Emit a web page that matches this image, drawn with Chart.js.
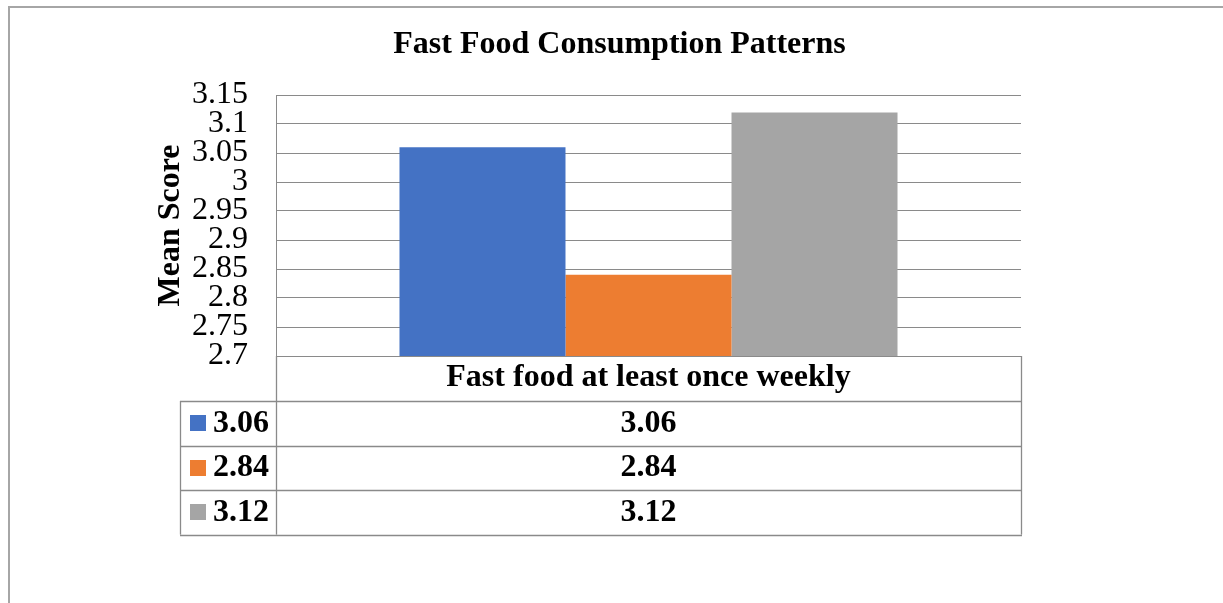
<!DOCTYPE html>
<html>
<head>
<meta charset="utf-8">
<title>Fast Food Consumption Patterns</title>
<script src="https://cdn.jsdelivr.net/npm/chart.js@4.4.1/dist/chart.umd.min.js"></script>
<style>
  html, body { margin: 0; padding: 0; background: #ffffff; }
  canvas { display: block; }
</style>
</head>
<body>
<canvas id="chart" width="1223" height="603"></canvas>
<script>
// ---- data ----
const chartTitle = 'Fast Food Consumption Patterns';
const axisTitle = 'Mean Score';
const categories = ['Fast food at least once weekly'];
const seriesNames = ['3.06', '2.84', '3.12'];
const seriesValues = [3.06, 2.84, 3.12];
const seriesColors = ['#4472C4', '#ED7D31', '#A5A5A5'];
const yTickLabels = ['2.7', '2.75', '2.8', '2.85', '2.9', '2.95', '3', '3.05', '3.1', '3.15'];

// ---- styling ----
const FONT = "'Liberation Serif', 'Times New Roman', serif";
const LINE = '#8a8a8a';
const FRAME = '#a6a6a6';

Chart.defaults.font.family = FONT;
Chart.defaults.color = '#000000';

// Outer chart frame (top and left edges)
const framePlugin = {
  id: 'frame',
  beforeDraw(chart) {
    const ctx = chart.ctx;
    ctx.save();
    ctx.fillStyle = '#ffffff';
    ctx.fillRect(0, 0, chart.width, chart.height);
    ctx.strokeStyle = FRAME;
    ctx.lineWidth = 2;
    ctx.beginPath();
    ctx.moveTo(9, chart.height);
    ctx.lineTo(9, 7);
    ctx.lineTo(chart.width, 7);
    ctx.stroke();
    ctx.restore();
  }
};

// Data table under the plot: header row holds the category label (drawn by the x axis),
// then one row per series with its legend key and value.
const dataTablePlugin = {
  id: 'dataTable',
  afterDraw(chart) {
    const ctx = chart.ctx;
    const area = chart.chartArea;
    const xScale = chart.scales.x;
    const headerH = 45;
    const rowH = 44.5;
    const keyColLeft = 180;
    const top = area.bottom;
    const firstRow = top + headerH;
    const bottom = firstRow + rowH * seriesValues.length;

    ctx.save();
    ctx.strokeStyle = LINE;
    ctx.lineWidth = 1.3;
    const px = v => Math.round(v) + 0.5;

    ctx.beginPath();
    // vertical lines
    ctx.moveTo(px(area.left), top); ctx.lineTo(px(area.left), bottom);
    ctx.moveTo(px(area.right), top); ctx.lineTo(px(area.right), bottom);
    ctx.moveTo(px(keyColLeft), firstRow); ctx.lineTo(px(keyColLeft), bottom);
    // horizontal lines
    for (let i = 0; i <= seriesValues.length; i++) {
      const y = px(firstRow + rowH * i);
      ctx.moveTo(keyColLeft, y); ctx.lineTo(px(area.right) + 0.5, y);
    }
    ctx.stroke();

    ctx.font = 'bold 32px ' + FONT;
    ctx.textBaseline = 'middle';
    const cx = xScale.getPixelForValue(0);
    chart.data.datasets.forEach((ds, i) => {
      const cy = firstRow + rowH * i + rowH / 2;
      // legend key
      ctx.fillStyle = ds.backgroundColor;
      ctx.fillRect(190, Math.round(cy - 8), 16, 16);
      // series name
      ctx.fillStyle = '#000000';
      ctx.textAlign = 'left';
      ctx.fillText(ds.label, 213, cy);
      // value
      ctx.textAlign = 'center';
      ctx.fillText(ds.data[0].toFixed(2), cx, cy);
    });
    ctx.restore();
  }
};

new Chart(document.getElementById('chart'), {
  type: 'bar',
  data: {
    labels: categories,
    datasets: seriesNames.map((name, i) => ({
      label: name,
      data: [seriesValues[i]],
      backgroundColor: seriesColors[i],
      borderWidth: 0,
      yAxisID: 'y',
      categoryPercentage: 0.6685,
      barPercentage: 1.0
    }))
  },
  options: {
    responsive: false,
    animation: false,
    devicePixelRatio: 1,
    layout: { padding: { left: 16, right: 0, top: 0, bottom: 0 } },
    plugins: {
      legend: { display: false },
      tooltip: { enabled: false },
      title: {
        display: true,
        text: chartTitle,
        color: '#000000',
        font: { family: FONT, size: 32, weight: 'bold', lineHeight: 1.2 },
        padding: { top: 26, bottom: 30.6 }
      }
    },
    scales: {
      x: {
        grid: { display: false, drawTicks: false },
        border: { display: false },
        ticks: {
          color: '#000000',
          font: { family: FONT, size: 32, weight: 'bold' },
          padding: 3,
          maxRotation: 0,
          autoSkip: false
        },
        afterFit(scale) { scale.height = 247; }
      },
      y: {
        position: 'left',
        min: Number(yTickLabels[0]),
        max: Number(yTickLabels[yTickLabels.length - 1]),
        grid: { color: LINE, lineWidth: 1, drawTicks: false },
        border: { display: true, color: LINE, width: 1 },
        ticks: {
          stepSize: 0.05,
          autoSkip: false,
          padding: 28,
          color: '#000000',
          font: { family: FONT, size: 32, lineHeight: 1 },
          callback(value) {
            const hit = yTickLabels.find(l => Math.abs(Number(l) - value) < 1e-6);
            return hit === undefined ? '' : hit;
          }
        },
        title: {
          display: true,
          text: axisTitle,
          color: '#000000',
          font: { family: FONT, size: 32, weight: 'bold' },
          padding: { top: 136, bottom: 0 }
        },
        afterFit(scale) { scale.width = 260; }
      },
      yRight: {
        position: 'right',
        display: true,
        grid: { display: false, drawTicks: false },
        border: { display: false },
        ticks: { display: false },
        afterFit(scale) { scale.width = 202; }
      }
    }
  },
  plugins: [framePlugin, dataTablePlugin]
});
</script>
</body>
</html>
